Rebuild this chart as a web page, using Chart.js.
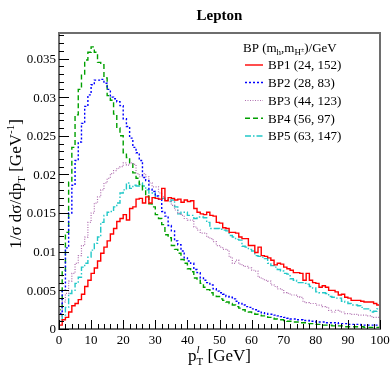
<!DOCTYPE html>
<html>
<head>
<meta charset="utf-8">
<script src="https://cdn.jsdelivr.net/npm/chart.js@4.4.1/dist/chart.umd.min.js"></script>
<style>
html,body{margin:0;padding:0;background:#fff;}
#wrap{width:390px;height:368px;}
</style>
</head>
<body>
<div id="wrap"><canvas id="c" width="390" height="368"></canvas></div>
<script>
// ---- data (1 GeV bins from 0 to 100) ----
const binWidth = 1;
const nBins = 100;
const xTickLabels = ["0","10","20","30","40","50","60","70","80","90","100"];
const yTickLabels = ["0","0.005","0.01","0.015","0.02","0.025","0.03","0.035"];
const seriesNames = ["BP1 (24, 152)","BP2 (28, 83)","BP3 (44, 123)","BP4 (56, 97)","BP5 (63, 147)"];

const bp1 = [0.0005,0.0012,0.0015,0.0022,0.0030,0.0033,0.0038,0.0045,0.0055,0.0063,
0.0072,0.0079,0.0088,0.0098,0.0106,0.0114,0.0123,0.0130,0.0139,0.0143,
0.0148,0.0141,0.0156,0.0158,0.0168,0.0169,0.0163,0.0171,0.0163,0.0170,
0.0169,0.0168,0.0182,0.0166,0.0170,0.0169,0.0167,0.0168,0.0164,0.0167,
0.0165,0.0166,0.0156,0.0151,0.0149,0.0148,0.0151,0.0147,0.0146,0.0138,
0.0137,0.0131,0.0130,0.0125,0.0125,0.0124,0.0119,0.0117,0.0117,0.0108,
0.0108,0.0099,0.0106,0.0095,0.0094,0.0092,0.0089,0.0083,0.0085,0.0084,
0.0080,0.0078,0.0076,0.0073,0.0073,0.0072,0.0063,0.0072,0.0063,0.0060,
0.0059,0.0054,0.0056,0.0054,0.0050,0.0050,0.0048,0.0044,0.0045,0.0041,
0.0040,0.0037,0.0037,0.0037,0.0036,0.0035,0.0035,0.0035,0.0033,0.0031];

const bp2 = [0.0020,0.0050,0.0105,0.0150,0.0186,0.0218,0.0242,0.0266,0.0288,0.0303,
0.0316,0.0322,0.0322,0.0323,0.0318,0.0310,0.0300,0.0298,0.0294,0.0289,
0.0272,0.0262,0.0247,0.0235,0.0228,0.0218,0.0196,0.0192,0.0181,0.0178,
0.0172,0.0168,0.0152,0.0146,0.0134,0.0127,0.0114,0.0109,0.0101,0.0092,
0.0088,0.0085,0.0077,0.0073,0.0066,0.0063,0.0060,0.0057,0.0052,0.0049,
0.0047,0.0045,0.0042,0.0041,0.0039,0.0036,0.0033,0.0031,0.0029,0.0028,
0.0026,0.0025,0.0023,0.0021,0.0020,0.0019,0.0019,0.0018,0.0017,0.0016,
0.0015,0.0014,0.0013,0.0013,0.0012,0.0012,0.0011,0.0011,0.0010,0.0010,
0.0009,0.0009,0.0009,0.0008,0.0008,0.0008,0.0008,0.0007,0.0007,0.0007,
0.0006,0.0006,0.0006,0.0006,0.0005,0.0005,0.0005,0.0005,0.0005,0.0005];

const bp3 = [0.0017,0.0035,0.0046,0.0062,0.0072,0.0085,0.0095,0.0108,0.0119,0.0138,
0.0150,0.0163,0.0171,0.0180,0.0189,0.0195,0.0201,0.0205,0.0208,0.0210,
0.0215,0.0212,0.0215,0.0213,0.0201,0.0197,0.0201,0.0197,0.0189,0.0184,
0.0184,0.0176,0.0171,0.0167,0.0167,0.0160,0.0154,0.0150,0.0147,0.0143,
0.0141,0.0141,0.0132,0.0128,0.0124,0.0124,0.0119,0.0117,0.0113,0.0108,
0.0106,0.0103,0.0102,0.0093,0.0085,0.0089,0.0084,0.0082,0.0081,0.0079,
0.0076,0.0075,0.0067,0.0065,0.0063,0.0062,0.0057,0.0055,0.0052,0.0051,
0.0047,0.0046,0.0044,0.0044,0.0042,0.0041,0.0035,0.0034,0.0033,0.0033,
0.0031,0.0031,0.0029,0.0028,0.0024,0.0022,0.0024,0.0023,0.0022,0.0020,
0.0020,0.0019,0.0019,0.0018,0.0018,0.0018,0.0017,0.0016,0.0015,0.0015];

const bp4 = [0.0025,0.0075,0.0125,0.0190,0.0235,0.0277,0.0310,0.0330,0.0348,0.0358,
0.0365,0.0358,0.0345,0.0342,0.0325,0.0302,0.0296,0.0278,0.0260,0.0250,
0.0228,0.0222,0.0215,0.0202,0.0195,0.0187,0.0180,0.0172,0.0162,0.0158,
0.0148,0.0143,0.0135,0.0122,0.0118,0.0108,0.0103,0.0098,0.0090,0.0085,
0.0078,0.0074,0.0066,0.0063,0.0059,0.0054,0.0051,0.0047,0.0044,0.0042,
0.0039,0.0037,0.0035,0.0033,0.0031,0.0029,0.0027,0.0025,0.0023,0.0022,
0.0020,0.0019,0.0018,0.0017,0.0016,0.0015,0.0014,0.0013,0.0012,0.0012,
0.0011,0.0010,0.0010,0.0009,0.0009,0.0008,0.0008,0.0007,0.0007,0.0006,
0.0006,0.0006,0.0005,0.0005,0.0005,0.0004,0.0004,0.0004,0.0004,0.0003,
0.0003,0.0003,0.0003,0.0003,0.0003,0.0002,0.0002,0.0002,0.0002,0.0002];

const bp5 = [0.0010,0.0018,0.0028,0.0046,0.0050,0.0059,0.0067,0.0080,0.0085,0.0093,
0.0102,0.0111,0.0119,0.0138,0.0147,0.0151,0.0152,0.0158,0.0163,0.0176,
0.0180,0.0189,0.0182,0.0186,0.0185,0.0189,0.0185,0.0180,0.0176,0.0176,
0.0169,0.0169,0.0169,0.0167,0.0165,0.0167,0.0158,0.0149,0.0151,0.0151,
0.0147,0.0147,0.0143,0.0145,0.0145,0.0144,0.0138,0.0130,0.0130,0.0130,
0.0129,0.0128,0.0127,0.0121,0.0119,0.0116,0.0115,0.0107,0.0106,0.0103,
0.0101,0.0095,0.0094,0.0093,0.0091,0.0085,0.0082,0.0080,0.0077,0.0075,
0.0072,0.0071,0.0065,0.0063,0.0060,0.0060,0.0059,0.0058,0.0055,0.0053,
0.0048,0.0047,0.0047,0.0046,0.0042,0.0041,0.0040,0.0040,0.0036,0.0035,
0.0033,0.0031,0.0031,0.0030,0.0028,0.0026,0.0026,0.0022,0.0023,0.0026];

// ---- styles ----
const SERIF = '"Liberation Serif", "DejaVu Serif", serif';
const styles = [
  {color:'#ff0000', dash:[], width:1.4},
  {color:'#0000ff', dash:[2,2], width:1.4},
  {color:'#b070b0', dash:[1,1.5], width:1.2},
  {color:'#00a000', dash:[5,3], width:1.4},
  {color:'#22c8c8', dash:[6,2,1.5,2], width:1.4}
];
const allSeries = [bp1,bp2,bp3,bp4,bp5];

function histPoints(vals){
  const pts = [{x:0, y:0}];
  for (let i=0;i<vals.length;i++) pts.push({x:i*binWidth, y:vals[i]});
  pts.push({x:vals.length*binWidth, y:vals[vals.length-1]});
  return pts;
}

const datasets = allSeries.map((vals,i)=>({
  label: seriesNames[i],
  data: histPoints(vals),
  borderColor: styles[i].color,
  borderDash: styles[i].dash,
  borderWidth: styles[i].width,
  stepped: true,
  pointRadius: 0,
  fill: false,
  tension: 0
}));

function richWidth(ctx, parts){
  let w=0;
  for (const p of parts){
    if (p.stack) { 
      ctx.font = p.stack[0].font; const a = ctx.measureText(p.stack[0].t).width;
      ctx.font = p.stack[1].font; const b = ctx.measureText(p.stack[1].t).width;
      w += Math.max(a,b);
    } else { ctx.font = p.font; w += ctx.measureText(p.t).width; }
  }
  return w;
}
function drawRich(ctx, x, y, parts, align){
  let w = richWidth(ctx, parts);
  let cx = align==='center' ? x - w/2 : (align==='right' ? x - w : x);
  ctx.textAlign='left'; ctx.textBaseline='alphabetic';
  for (const p of parts){
    if (p.stack){
      let mw=0;
      for (const s of p.stack){ ctx.font=s.font; ctx.fillText(s.t, cx, y+(s.dy||0)); mw=Math.max(mw, ctx.measureText(s.t).width); }
      cx += mw;
    } else {
      ctx.font = p.font; ctx.fillText(p.t, cx, y+(p.dy||0)); cx += ctx.measureText(p.t).width;
    }
  }
}
const F = (s, st) => (st||'') + ' ' + s + 'px ' + SERIF;

const rootPlugin = {
  id:'rootStyle',
  beforeDraw(chart){
    const ctx = chart.ctx;
    ctx.save(); ctx.fillStyle='#fff'; ctx.fillRect(0,0,chart.width,chart.height); ctx.restore();
  },
  afterDraw(chart){
    const ctx = chart.ctx, a = chart.chartArea;
    const xs = chart.scales.x, ys = chart.scales.y;
    ctx.save();
    // frame
    ctx.strokeStyle = '#6e6e6e'; ctx.lineWidth = 2; ctx.setLineDash([]);
    ctx.strokeRect(a.left, a.top, a.right-a.left, a.bottom-a.top);
    // ticks
    ctx.strokeStyle = '#000'; ctx.lineWidth = 1;
    ctx.beginPath();
    for (let v=0; v<=0.0383+1e-9; v+=0.001){
      const k = Math.round(v*1000);
      const py = Math.round(ys.getPixelForValue(k/1000))+0.5;
      const len = (k%5===0) ? 10 : 5;
      ctx.moveTo(a.left, py); ctx.lineTo(a.left+len, py);
    }
    for (let g=0; g<=100; g+=2){
      const px = Math.round(xs.getPixelForValue(g))+0.5;
      const len = (g%10===0) ? 9 : 5;
      ctx.moveTo(px, a.bottom); ctx.lineTo(px, a.bottom-len);
    }
    ctx.stroke();
    // tick labels
    ctx.fillStyle = '#000';
    ctx.font = F(13); ctx.textAlign='right'; ctx.textBaseline='middle';
    yTickLabels.forEach((lab,i)=>{
      ctx.fillText(lab, a.left-3, ys.getPixelForValue(i*0.005)+1);
    });
    ctx.textAlign='center'; ctx.textBaseline='alphabetic';
    xTickLabels.forEach((lab,i)=>{
      ctx.fillText(lab, xs.getPixelForValue(i*10), a.bottom+15);
    });
    // title
    ctx.font = F(15,'bold'); ctx.textAlign='center';
    ctx.fillText('Lepton', (a.left+a.right)/2, 20);
    // x title
    drawRich(ctx, (a.left+a.right)/2, 361, [
      {t:'p', font:F(17)},
      {stack:[{t:'l', font:F(11,'italic'), dy:-8},{t:'T', font:F(11), dy:4}]},
      {t:' [GeV]', font:F(17)}
    ], 'center');
    // y title
    ctx.save();
    ctx.translate(21, 184); ctx.rotate(-Math.PI/2);
    drawRich(ctx, 0, 0, [
      {t:'1/σ dσ/dp', font:F(17)},
      {t:'T', font:F(11), dy:4},
      {t:' [GeV', font:F(17)},
      {t:'-1', font:F(11), dy:-7},
      {t:']', font:F(17)}
    ], 'center');
    ctx.restore();
    // legend
    const lx = 243;
    drawRich(ctx, lx, 52, [
      {t:'BP (m', font:F(13)},
      {t:'h', font:F(9), dy:3},
      {t:',m', font:F(13)},
      {t:'H', font:F(9), dy:3},
      {t:'±', font:F(6), dy:0},
      {t:')/GeV', font:F(13)}
    ], 'left');
    const rowY = [65, 82.5, 100.5, 118.3, 136];
    seriesNames.forEach((nm,i)=>{
      const y = rowY[i];
      ctx.strokeStyle = styles[i].color; ctx.lineWidth = styles[i].width;
      ctx.setLineDash(styles[i].dash);
      ctx.beginPath(); ctx.moveTo(245, y); ctx.lineTo(263, y); ctx.stroke();
      ctx.setLineDash([]);
      ctx.fillStyle='#000'; ctx.font=F(13); ctx.textAlign='left'; ctx.textBaseline='middle';
      ctx.fillText(nm, 268, y+1);
    });
    ctx.restore();
  }
};

new Chart(document.getElementById('c'), {
  type:'line',
  data:{ datasets },
  options:{
    responsive:false,
    animation:false,
    layout:{ padding:{ left:59, right:10, top:33, bottom:39 } },
    plugins:{ legend:{display:false}, title:{display:false}, tooltip:{enabled:false} },
    scales:{
      x:{ type:'linear', min:0, max:100, display:false },
      y:{ type:'linear', min:0, max:0.0383, display:false }
    },
    elements:{ line:{ borderCapStyle:'butt', borderJoinStyle:'miter' } }
  },
  plugins:[rootPlugin]
});
</script>
</body>
</html>
